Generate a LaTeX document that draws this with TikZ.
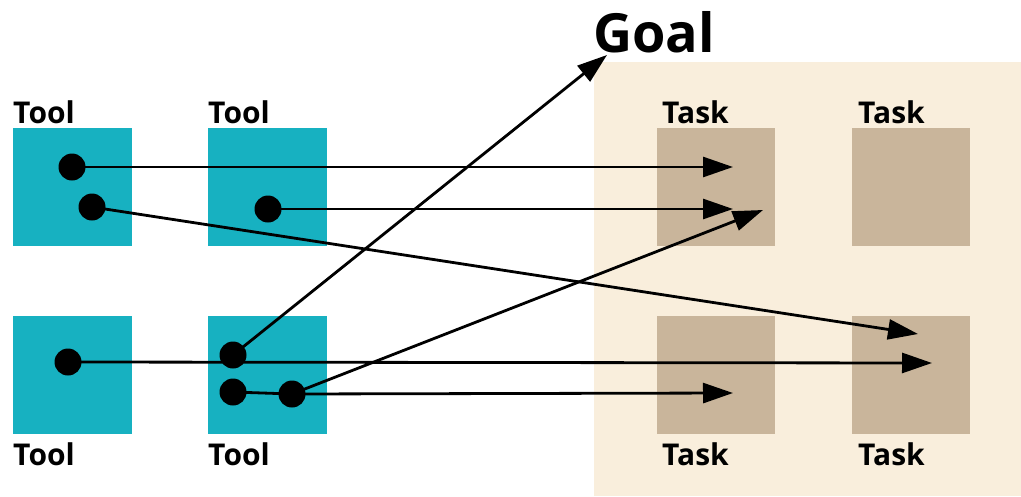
\documentclass[tikz,border=0pt]{standalone}
\usepackage{fontspec}
\setmainfont{Open Sans}
\usetikzlibrary{arrows.meta}
\pgfdeclarelayer{bg}
\pgfdeclarelayer{wires}
\pgfsetlayers{bg,wires,main}
\definecolor{toolcol}{HTML}{17B1C1}
\definecolor{areacol}{HTML}{F9EEDC}
\definecolor{taskcol}{HTML}{C9B59B}
\tikzset{
  toolbox/.style={fill=toolcol, draw=none, minimum width=119pt, minimum height=118pt, inner sep=0pt},
  taskbox/.style={fill=taskcol, draw=none, minimum width=118pt, minimum height=118pt, inner sep=0pt},
  lbl/.style={font=\fontsize{30}{30}\selectfont\bfseries, inner sep=0pt, anchor=base west},
  dot/.style={circle, fill=black, inner sep=0pt, minimum size=27pt},
  wire/.style={line width=2.8pt, -{Triangle[length=30pt, width=20pt]}},
  plain/.style={line width=2.8pt}
}
\begin{document}
\begin{tikzpicture}[x=1pt, y=-1pt]
\useasboundingbox (0,0) rectangle (1021,496);

\begin{pgfonlayer}{bg}
  % shaded task area
  \fill[areacol] (594,62) rectangle (1021,496);
  % tools
  \node[toolbox] (tool1) at (72.5,187) {};
  \node[toolbox] (tool2) at (267.5,187) {};
  \node[toolbox] (tool3) at (72.5,375) {};
  \node[toolbox] (tool4) at (267.5,375) {};
  % tasks
  \node[taskbox] (task1) at (715.5,187) {};
  \node[taskbox] (task2) at (911,187) {};
  \node[taskbox] (task3) at (715.5,375) {};
  \node[taskbox] (task4) at (911,375) {};
\end{pgfonlayer}

% labels
\node[lbl] (lt1) at (13,123) {Tool};
\node[lbl] (lt2) at (208,123) {Tool};
\node[lbl] (lt3) at (13,465) {Tool};
\node[lbl] (lt4) at (208,465) {Tool};
\node[lbl] (lk1) at (662,123) {Task};
\node[lbl] (lk2) at (858,123) {Task};
\node[lbl] (lk3) at (662,465) {Task};
\node[lbl] (lk4) at (858,465) {Task};
\node[lbl, font=\fontsize{54}{54}\selectfont\bfseries] (goal) at (593,52) {Goal};

% connection points
\node[dot] (a1) at (72,167) {};
\node[dot] (a2) at (92,207) {};
\node[dot] (b1) at (268,209) {};
\node[dot] (c1) at (68,362) {};
\node[dot] (d1) at (233,355) {};
\node[dot] (d2) at (233,392) {};
\node[dot] (d3) at (292,394) {};

% arrow ends
\coordinate (e1) at (733,167);
\coordinate (e2) at (733,209);
\coordinate (e3) at (763,210);
\coordinate (e4) at (918,334);
\coordinate (e5) at (932,363);
\coordinate (e6) at (733,393);
\coordinate (eg) at (607,55);

\begin{pgfonlayer}{wires}
  \draw[wire] (a1.center) -- (e1);
  \draw[wire] (b1.center) -- (e2);
  \draw[wire] (d3.center) -- (e3);
  \draw[wire] (a2.center) -- (e4);
  \draw[wire] (c1.center) -- (e5);
  \draw[plain] (d2.center) -- (d3.center);
  \draw[wire] (d3.center) -- (e6);
  \draw[wire] (d1.center) -- (eg);
\end{pgfonlayer}
\end{tikzpicture}
\end{document}
